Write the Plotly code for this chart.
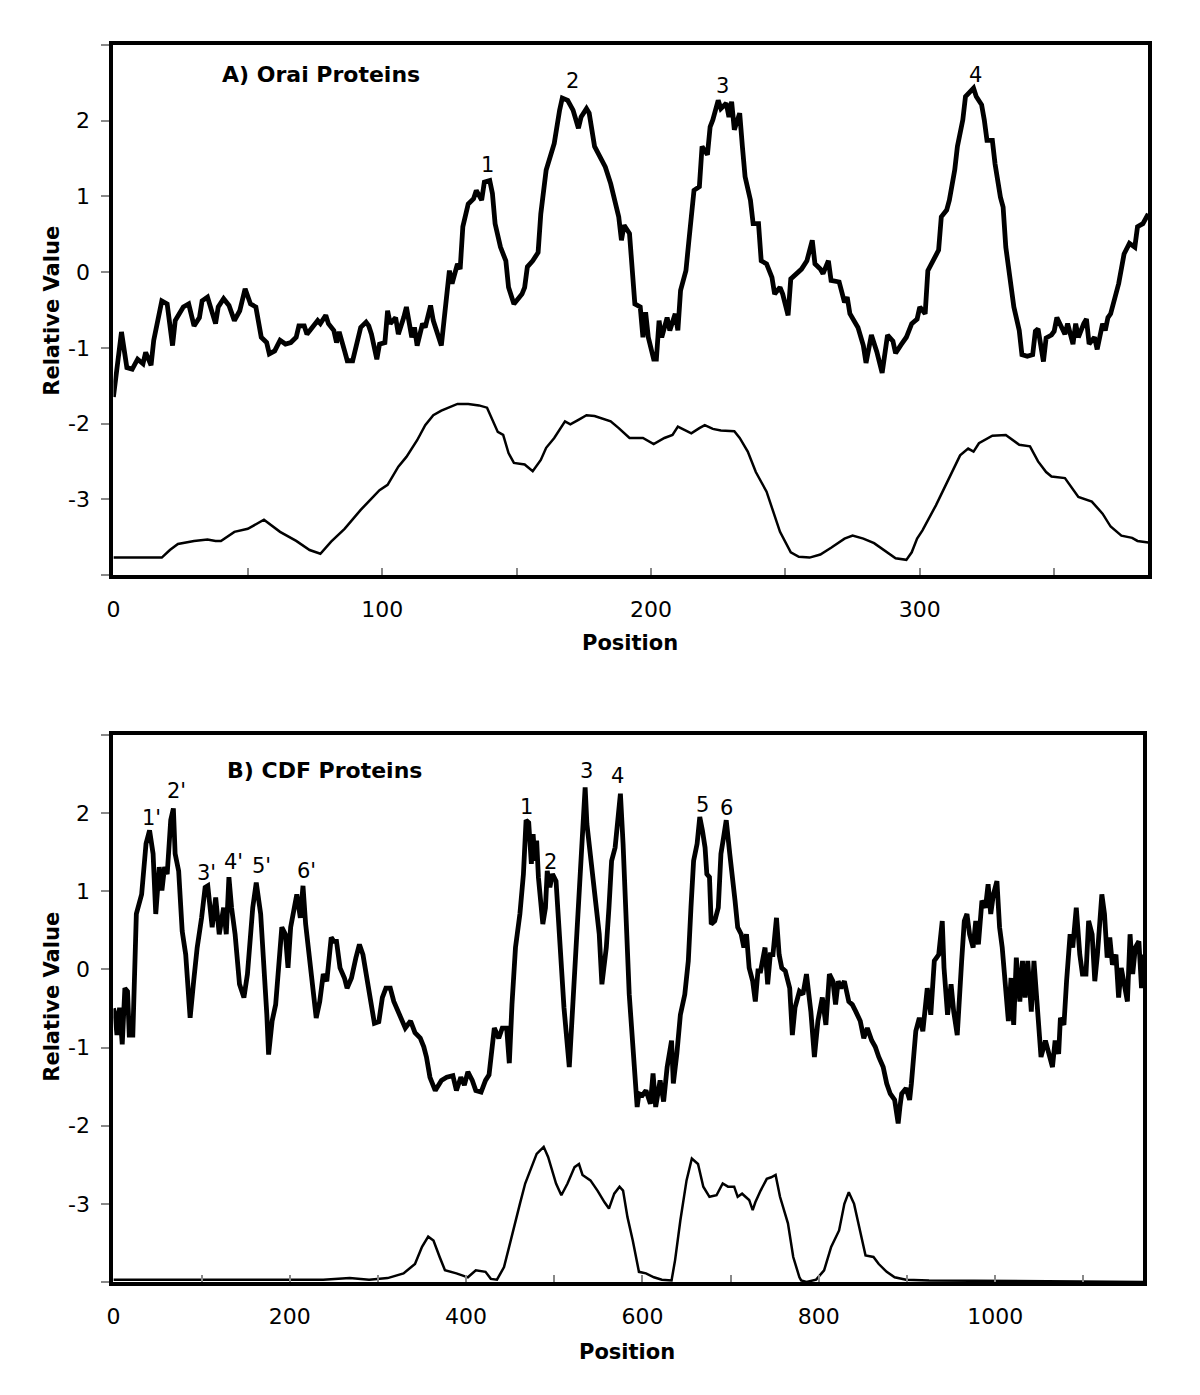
import plotly.graph_objects as go

# ---------------- Data: Panel A (Orai proteins) ----------------
orai_pos = [0, 3, 5, 7, 9, 11, 12, 14, 15, 18, 20, 22, 23, 26, 28, 30, 32, 33, 35, 38, 39, 41, 43, 45, 47, 49,
            51, 53, 55, 57, 58, 60, 62, 64, 66, 68, 69, 71, 72, 74, 76, 77, 79, 80, 82, 83, 84, 86, 87, 89, 90,
            92, 94, 95, 96, 98, 99, 101, 102, 103, 105, 106, 108, 109, 111, 112, 113, 115, 116, 118, 119, 120,
            122, 123, 125, 126, 128, 129, 130, 132, 134, 135, 137, 138, 140, 141, 142, 144, 146, 147, 149, 152,
            153, 154, 156, 158, 159, 161, 163, 164, 166, 167, 169, 171, 173, 174, 176, 177, 179, 181, 183, 185,
            187, 188, 189, 190, 192, 193, 194, 196, 197, 198, 199, 201, 202, 203, 204, 206, 207, 209, 210, 211,
            213, 214, 216, 218, 219, 221, 222, 223, 225, 226, 228, 229, 230, 231, 233, 234, 235, 237, 238, 240,
            241, 243, 245, 246, 248, 249, 251, 252, 254, 256, 258, 260, 261, 263, 264, 266, 267, 270, 272, 273,
            274, 276, 277, 279, 280, 282, 284, 286, 288, 290, 291, 293, 295, 297, 299, 300, 302, 303, 306, 307,
            308, 310, 311, 313, 314, 316, 317, 318, 320, 321, 323, 324, 325, 327, 328, 330, 331, 332, 334, 335,
            337, 338, 340, 342, 343, 344, 346, 347, 349, 350, 351, 352, 354, 355, 357, 358, 359, 361, 362, 363,
            365, 366, 368, 369, 370, 371, 373, 374, 376, 378, 380, 381, 383, 385]
orai_hydro = [-1.65, -0.79, -1.26, -1.28, -1.15, -1.21, -1.06, -1.23, -0.90, -0.38, -0.42, -0.97, -0.64, -0.46,
              -0.42, -0.71, -0.60, -0.38, -0.33, -0.68, -0.46, -0.35, -0.44, -0.64, -0.51, -0.22, -0.42, -0.46,
              -0.86, -0.93, -1.08, -1.04, -0.90, -0.95, -0.93, -0.86, -0.71, -0.71, -0.82, -0.73, -0.64, -0.68,
              -0.57, -0.68, -0.77, -0.93, -0.79, -1.04, -1.17, -1.17, -1.02, -0.73, -0.66, -0.71, -0.82, -1.15,
              -0.95, -0.93, -0.51, -0.68, -0.60, -0.82, -0.60, -0.46, -0.86, -0.73, -0.97, -0.68, -0.73, -0.44,
              -0.64, -0.77, -0.97, -0.64, 0.02, -0.15, 0.11, 0.04, 0.60, 0.90, 0.97, 1.08, 0.95, 1.19, 1.21, 1.04,
              0.64, 0.33, 0.15, -0.20, -0.42, -0.29, -0.20, 0.07, 0.15, 0.26, 0.77, 1.35, 1.61, 1.70, 2.14, 2.30,
              2.27, 2.14, 1.90, 2.05, 2.16, 2.10, 1.66, 1.52, 1.39, 1.17, 0.86, 0.73, 0.42, 0.62, 0.51, 0.02,
              -0.42, -0.46, -0.86, -0.53, -0.86, -1.15, -1.15, -0.64, -0.86, -0.60, -0.77, -0.55, -0.77, -0.24,
              0.02, 0.38, 1.08, 1.13, 1.66, 1.55, 1.92, 2.01, 2.27, 2.16, 2.23, 2.05, 2.25, 1.88, 2.10, 1.66, 1.26,
              0.95, 0.64, 0.64, 0.15, 0.11, -0.07, -0.29, -0.20, -0.29, -0.57, -0.09, -0.02, 0.04, 0.15, 0.42,
              0.11, 0.04, -0.02, 0.15, -0.11, -0.13, -0.40, -0.33, -0.55, -0.68, -0.73, -0.97, -1.20, -0.83, -1.05,
              -1.33, -0.83, -0.91, -1.07, -0.96, -0.86, -0.68, -0.62, -0.46, -0.55, 0.02, 0.24, 0.29, 0.73, 0.82,
              0.95, 1.35, 1.66, 2.01, 2.32, 2.36, 2.43, 2.32, 2.21, 2.01, 1.74, 1.74, 1.43, 0.99, 0.86, 0.33, -0.15,
              -0.46, -0.77, -1.09, -1.11, -1.09, -0.78, -0.75, -1.18, -0.87, -0.83, -0.78, -0.60, -0.68, -0.82,
              -0.68, -0.95, -0.68, -0.86, -0.68, -0.62, -0.95, -0.86, -1.02, -0.68, -0.77, -0.60, -0.55, -0.29,
              -0.15, 0.24, 0.38, 0.33, 0.60, 0.64, 0.77]

orai_pos2 = [0, 7, 11, 18, 21, 24, 30, 35, 38, 40, 45, 50, 56, 62, 68, 73, 77, 81, 86, 92, 96, 99, 102, 106, 109,
             113, 116, 119, 122, 125, 128, 132, 136, 139, 141, 143, 145, 147, 149, 153, 156, 159, 161, 164, 168,
             170, 173, 176, 179, 182, 185, 188, 192, 197, 201, 205, 208, 210, 212, 215, 218, 220, 223, 226, 231,
             233, 236, 239, 243, 248, 252, 255, 259, 263, 267, 272, 275, 279, 283, 288, 291, 295, 297, 299, 301,
             306, 311, 315, 318, 320, 322, 327, 332, 337, 341, 344, 347, 349, 354, 359, 364, 368, 371, 375, 379,
             381, 385]
orai_second = [-3.77, -3.77, -3.78, -3.77, -3.67, -3.59, -3.55, -3.53, -3.55, -3.55, -3.43, -3.39, -3.27, -3.43,
               -3.55, -3.67, -3.72, -3.56, -3.39, -3.14, -2.99, -2.88, -2.81, -2.57, -2.44, -2.22, -2.02, -1.89,
               -1.83, -1.79, -1.74, -1.74, -1.76, -1.79, -1.95, -2.11, -2.15, -2.39, -2.52, -2.54, -2.63, -2.48,
               -2.32, -2.19, -1.97, -2.01, -1.95, -1.89, -1.90, -1.94, -1.97, -2.06, -2.19, -2.19, -2.27, -2.19,
               -2.15, -2.04, -2.08, -2.13, -2.06, -2.02, -2.07, -2.09, -2.10, -2.19, -2.37, -2.64, -2.90, -3.43,
               -3.70, -3.76, -3.77, -3.73, -3.64, -3.52, -3.48, -3.52, -3.58, -3.70, -3.78, -3.80, -3.70, -3.52,
               -3.41, -3.08, -2.72, -2.42, -2.33, -2.37, -2.26, -2.16, -2.15, -2.28, -2.30, -2.50, -2.64, -2.70,
               -2.72, -2.97, -3.03, -3.19, -3.36, -3.48, -3.51, -3.55, -3.57]

orai_peak_text = ["1", "2", "3", "4"]
orai_peak_x = [139, 170.7, 226.6, 320.8]
orai_peak_y = [1.41, 2.52, 2.46, 2.60]

# ---------------- Data: Panel B (CDF proteins) ----------------
cdf_pos = [0, 2, 4, 7, 10, 13, 16, 18, 22, 26, 32, 37, 41, 45, 48, 52, 55, 58, 61, 65, 68, 70, 74, 78, 82, 87, 91,
           95, 100, 104, 107, 112, 116, 120, 125, 128, 131, 134, 138, 143, 148, 152, 158, 162, 167, 171, 174, 176,
           180, 184, 188, 191, 195, 198, 201, 205, 208, 212, 215, 218, 223, 227, 230, 234, 238, 242, 247, 250, 253,
           257, 262, 265, 270, 275, 279, 283, 288, 292, 296, 301, 305, 309, 314, 318, 324, 331, 337, 342, 348, 352,
           355, 359, 365, 372, 378, 385, 389, 394, 398, 402, 407, 411, 417, 422, 426, 430, 432, 437, 441, 446, 449,
           452, 456, 461, 465, 468, 471, 474, 476, 478, 480, 482, 487, 490, 492, 495, 498, 502, 505, 508, 511, 517,
           521, 523, 526, 530, 533, 535, 537, 540, 543, 547, 551, 554, 557, 559, 562, 565, 569, 572, 575, 578, 581,
           585, 594, 596, 600, 604, 609, 612, 615, 620, 624, 628, 633, 635, 639, 643, 648, 652, 655, 658, 662, 665,
           668, 671, 673, 676, 678, 682, 686, 689, 692, 695, 699, 702, 705, 708, 712, 715, 718, 721, 725, 728, 731,
           734, 739, 742, 745, 748, 752, 755, 758, 762, 767, 770, 773, 778, 782, 786, 791, 795, 799, 804, 808, 812,
           816, 819, 822, 825, 829, 834, 838, 842, 847, 851, 855, 860, 864, 868, 873, 877, 881, 886, 890, 892, 894,
           899, 903, 905, 908, 910, 914, 918, 923, 927, 931, 936, 940, 942, 946, 950, 953, 957, 962, 965, 968, 971,
           975, 978, 981, 985, 989, 992, 995, 998, 1002, 1005, 1008, 1011, 1015, 1018, 1021, 1024, 1028, 1031,
           1034, 1037, 1041, 1044, 1047, 1050, 1052, 1057, 1061, 1065, 1068, 1072, 1074, 1078, 1081, 1085, 1088,
           1092, 1096, 1099, 1103, 1106, 1110, 1113, 1116, 1119, 1121, 1124, 1127, 1130, 1133, 1137, 1140, 1143,
           1146, 1150, 1153, 1156, 1159, 1163, 1166, 1168]
cdf_hydro = [-0.50, -0.58, -0.84, -0.49, -0.96, -0.24, -0.28, -0.84, -0.84, 0.71, 0.96, 1.61, 1.78, 1.48, 0.71,
             1.31, 1.01, 1.31, 1.22, 1.91, 2.06, 1.48, 1.26, 0.49, 0.19, -0.62, -0.15, 0.28, 0.66, 1.05, 1.07, 0.54,
             0.92, 0.45, 0.79, 0.45, 1.18, 0.79, 0.45, -0.19, -0.36, -0.06, 0.79, 1.11, 0.71, 0.06, -0.58, -1.09,
             -0.66, -0.45, 0.19, 0.54, 0.45, 0.02, 0.54, 0.79, 0.96, 0.66, 1.07, 0.58, 0.11, -0.36, -0.62, -0.41,
             -0.06, -0.15, 0.41, 0.36, 0.36, 0.02, -0.11, -0.24, -0.11, 0.15, 0.32, 0.19, -0.15, -0.36, -0.69,
             -0.67, -0.36, -0.24, -0.24, -0.41, -0.58, -0.75, -0.66, -0.81, -0.88, -0.99, -1.12, -1.38, -1.55,
             -1.42, -1.38, -1.36, -1.55, -1.38, -1.48, -1.31, -1.42, -1.55, -1.57, -1.42, -1.35, -0.99, -0.75,
             -0.88, -0.75, -0.75, -1.20, -0.45, 0.28, 0.71, 1.22, 1.91, 1.88, 1.35, 1.73, 1.39, 1.65, 1.18, 0.58,
             0.79, 1.26, 1.05, 1.22, 1.13, 0.58, 0.11, -0.49, -1.25, -0.49, 0.06, 0.62, 1.13, 1.82, 2.33, 1.86,
             1.56, 1.18, 0.79, 0.45, -0.19, 0.10, 0.28, 0.79, 1.39, 1.56, 1.91, 2.25, 1.61, 0.62, -0.32, -1.76,
             -1.59, -1.61, -1.55, -1.72, -1.33, -1.76, -1.42, -1.69, -1.25, -0.91, -1.46, -1.08, -0.58, -0.32, 0.11,
             0.79, 1.39, 1.61, 1.95, 1.78, 1.56, 1.22, 1.18, 0.58, 0.62, 0.79, 1.48, 1.69, 1.91, 1.48, 1.22, 0.88,
             0.54, 0.45, 0.28, 0.45, 0.02, -0.15, -0.41, -0.02, -0.02, 0.28, -0.19, 0.19, 0.19, 0.66, 0.19, 0.02,
             -0.02, -0.24, -0.84, -0.49, -0.28, -0.32, -0.06, -0.54, -1.12, -0.66, -0.36, -0.71, -0.06, -0.15,
             -0.45, -0.15, -0.24, -0.15, -0.41, -0.45, -0.54, -0.66, -0.88, -0.75, -0.91, -0.99, -1.12, -1.25,
             -1.46, -1.59, -1.67, -1.97, -1.76, -1.59, -1.52, -1.67, -1.46, -1.03, -0.79, -0.62, -0.79, -0.24,
             -0.58, 0.11, 0.19, 0.62, 0.02, -0.58, -0.19, -0.54, -0.84, 0.11, 0.62, 0.71, 0.45, 0.28, 0.62, 0.32,
             0.88, 0.79, 1.09, 0.71, 0.96, 1.13, 0.54, 0.28, -0.15, -0.66, -0.11, -0.71, 0.15, -0.41, 0.11, -0.36,
             0.11, -0.54, 0.11, -0.32, -0.66, -1.12, -0.91, -1.08, -1.25, -0.91, -1.08, -0.62, -0.71, -0.15, 0.45,
             0.28, 0.79, 0.19, -0.06, -0.06, 0.62, 0.45, -0.15, 0.19, 0.79, 0.96, 0.71, 0.15, 0.41, 0.06, 0.19,
             -0.36, 0.02, -0.15, -0.41, 0.45, -0.06, 0.28, 0.36, -0.24, 0.19]

cdf_pos2 = [0, 238, 268, 290, 311, 329, 342, 350, 357, 363, 370, 376, 389, 402, 411, 422, 428, 435, 443, 454, 461,
            467, 474, 480, 488, 493, 502, 508, 515, 523, 528, 532, 541, 549, 557, 562, 568, 574, 578, 583, 589,
            596, 604, 613, 622, 633, 637, 643, 650, 656, 663, 669, 676, 684, 691, 697, 704, 708, 713, 721, 725,
            728, 734, 741, 746, 751, 756, 765, 771, 778, 780, 786, 797, 806, 814, 823, 829, 834, 840, 847, 853,
            862, 868, 877, 886, 899, 925, 1168]
cdf_second = [-3.97, -3.97, -3.95, -3.97, -3.95, -3.89, -3.77, -3.55, -3.42, -3.47, -3.68, -3.85, -3.89, -3.94,
              -3.85, -3.87, -3.96, -3.97, -3.81, -3.30, -3.00, -2.74, -2.53, -2.36, -2.27, -2.40, -2.74, -2.89,
              -2.74, -2.53, -2.49, -2.63, -2.70, -2.83, -2.98, -3.06, -2.87, -2.78, -2.83, -3.17, -3.47, -3.87,
              -3.89, -3.94, -3.97, -3.98, -3.72, -3.21, -2.70, -2.42, -2.49, -2.78, -2.91, -2.89, -2.74, -2.78,
              -2.78, -2.91, -2.87, -2.95, -3.08, -2.98, -2.83, -2.68, -2.66, -2.63, -2.91, -3.25, -3.68, -3.94,
              -3.98, -4.00, -3.97, -3.85, -3.55, -3.34, -3.00, -2.85, -3.00, -3.34, -3.66, -3.68, -3.77, -3.87,
              -3.94, -3.97, -3.98, -4.00]

cdf_peak_text = ["1'", "2'", "3'", "4'", "5'", "6'", "1", "2", "3", "4", "5", "6"]
cdf_peak_x = [43, 71.4, 106, 136, 168, 219, 469, 496, 537, 572, 668.4, 695.2]
cdf_peak_y = [1.94, 2.28, 1.23, 1.38, 1.32, 1.26, 2.08, 1.38, 2.54, 2.47, 2.11, 2.06]

y_tick_vals = [-4, -3, -2, -1, 0, 1, 2, 3]
y_tick_text = ["", "-3", "-2", "-1", "0", "1", "2", ""]

# ---------------- Figure ----------------
# The page body has an 8 px margin; the figure is sized/positioned so that
# page-pixel coordinates match the reference.
OFF = 8
W, H = 1184, 1379
FONT = "DejaVu Sans"


def fx(p):
    return (p - OFF) / W


def fy(p):
    return 1 - (p - OFF) / H


fig = go.Figure()
fig.add_trace(go.Scatter(x=orai_pos2, y=orai_second, mode="lines",
                         line=dict(color="black", width=2.5), xaxis="x", yaxis="y", showlegend=False))
fig.add_trace(go.Scatter(x=orai_pos, y=orai_hydro, mode="lines",
                         line=dict(color="black", width=4.8), xaxis="x", yaxis="y", showlegend=False))
fig.add_trace(go.Scatter(x=cdf_pos2, y=cdf_second, mode="lines",
                         line=dict(color="black", width=2.5), xaxis="x2", yaxis="y2", showlegend=False))
fig.add_trace(go.Scatter(x=cdf_pos, y=cdf_hydro, mode="lines",
                         line=dict(color="black", width=4.8), xaxis="x2", yaxis="y2", showlegend=False))

xcommon = dict(showgrid=False, zeroline=False, showline=True, linewidth=4, linecolor="black", mirror=True,
               ticks="inside", ticklen=7, tickwidth=1.5, tickcolor="#888888",
               tickfont=dict(family=FONT, size=22, color="black"), ticklabelstandoff=12)
ycommon = dict(showgrid=False, zeroline=False, showline=True, linewidth=4, linecolor="black", mirror=True,
               ticks="outside", ticklen=8, tickwidth=1.5, tickcolor="#888888",
               tickfont=dict(family=FONT, size=22, color="black"), ticklabelstandoff=7,
               range=[-4, 3], tickmode="array", tickvals=y_tick_vals, ticktext=y_tick_text)

x1_vals = list(range(0, 351, 50))
x1_text = [str(v) if v % 100 == 0 else "" for v in x1_vals]
x2_vals = list(range(0, 1101, 100))
x2_text = [str(v) if v % 200 == 0 else "" for v in x2_vals]

fig.update_layout(
    width=W, height=H,
    margin=dict(l=0, r=0, t=0, b=0),
    paper_bgcolor="white", plot_bgcolor="white",
    xaxis=dict(domain=[fx(107), fx(1148)], range=[0, 385], anchor="y",
               tickmode="array", tickvals=x1_vals, ticktext=x1_text, **xcommon),
    yaxis=dict(domain=[fy(575), fy(45)], anchor="x", **ycommon),
    xaxis2=dict(domain=[fx(107), fx(1143)], range=[0, 1168], anchor="y2",
                tickmode="array", tickvals=x2_vals, ticktext=x2_text, **xcommon),
    yaxis2=dict(domain=[fy(1282), fy(735)], anchor="x2", **ycommon),
)

ann = []
# axis titles
for yc in (311, 997):
    ann.append(dict(text="<b>Relative Value</b>", x=fx(45), y=fy(yc), xref="paper", yref="paper",
                    showarrow=False, textangle=-90, font=dict(family=FONT, size=21, color="black"),
                    xanchor="center", yanchor="middle"))
for xc, yc in ((627, 643), (624, 1352)):
    ann.append(dict(text="<b>Position</b>", x=fx(xc), y=fy(yc), xref="paper", yref="paper",
                    showarrow=False, font=dict(family=FONT, size=21, color="black"),
                    xanchor="center", yanchor="middle"))
# panel titles
ann.append(dict(text="<b>A) Orai Proteins</b>", x=fx(316), y=fy(75), xref="paper", yref="paper",
                showarrow=False, font=dict(family=FONT, size=22, color="black"),
                xanchor="center", yanchor="middle"))
ann.append(dict(text="<b>B) CDF Proteins</b>", x=fx(319), y=fy(770), xref="paper", yref="paper",
                showarrow=False, font=dict(family=FONT, size=22, color="black"),
                xanchor="center", yanchor="middle"))
# peak labels
for t, xv, yv in zip(orai_peak_text, orai_peak_x, orai_peak_y):
    ann.append(dict(text=t, x=xv, y=yv, xref="x", yref="y", showarrow=False,
                    font=dict(family=FONT, size=21, color="black"), xanchor="center", yanchor="middle"))
for t, xv, yv in zip(cdf_peak_text, cdf_peak_x, cdf_peak_y):
    ann.append(dict(text=t, x=xv, y=yv, xref="x2", yref="y2", showarrow=False,
                    font=dict(family=FONT, size=21, color="black"), xanchor="center", yanchor="middle"))
fig.update_layout(annotations=ann)

fig.write_html("out.html")
